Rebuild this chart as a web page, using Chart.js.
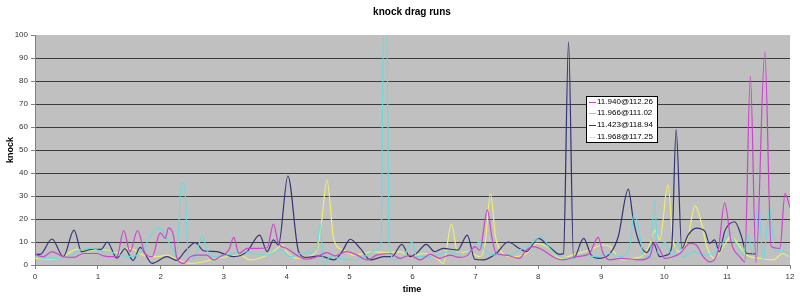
<!DOCTYPE html>
<html>
<head>
<meta charset="utf-8">
<script src="https://cdn.jsdelivr.net/npm/chart.js@4/dist/chart.umd.min.js"></script>
<style>
body { margin: 0; background: #fff; }
#wrap { width: 800px; height: 298px; }
</style>
</head>
<body>
<div id="wrap"><canvas id="grafico"></canvas></div>
<script>
// dados (tempo x knock) para cada corrida
const rotulos = ['11.940@112.26', '11.966@111.02', '11.423@118.94', '11.968@117.25'];
const cores = ['#cc44cc', '#6cdada', '#333377', '#eeee70'];

const tempoMagenta = [0,0.13,0.27,0.45,0.61,0.77,0.98,1.09,1.3,1.41,1.51,1.63,1.75,1.86,1.99,2.07,2.12,2.2,2.25,2.36,2.47,2.57,2.73,2.84,2.94,3.08,3.16,3.24,3.37,3.53,3.69,3.79,3.87,4.0,4.16,4.32,4.48,4.64,4.77,4.95,5.12,5.28,5.43,5.65,5.8,5.96,6.12,6.28,6.43,6.59,6.75,6.88,6.99,7.07,7.19,7.26,7.33,7.49,7.7,7.81,7.92,8.07,8.23,8.39,8.6,8.81,8.95,9.03,9.14,9.3,9.51,9.61,9.77,9.85,9.93,10.01,10.14,10.25,10.41,10.51,10.62,10.72,10.86,10.96,11.07,11.2,11.28,11.37,11.46,11.6,11.7,11.84,11.92,12];
const knockMagenta = [4.6,3.6,5.8,3.6,3.3,5,5,4,3.6,15,5.8,15,5,3.6,14,11.6,16,13,3.6,0.7,3.6,4.3,4.3,2.2,3.6,6.5,12,5,7.2,7.2,7.5,17.8,9.4,7.2,4.3,2.5,3.6,5.4,4,5.8,4.3,2.2,4.3,5,2.9,4.3,2.2,4.6,2.9,4.3,3.3,4.3,8,6.5,24,12.3,5,4.3,2.9,6.5,8,6.5,3.6,2.2,3.6,5,12,5,2.2,2.9,2.5,2.2,3.6,10,6.5,2.9,3.6,5,9.4,8.7,3.6,1.4,6.5,27,9.4,3.6,1.4,82,1,92.7,8,7.2,31,25];

const tempoCiano = [0,0.13,0.34,0.56,0.72,0.88,1.03,1.19,1.35,1.56,1.72,1.88,1.99,2.1,2.17,2.25,2.33,2.38,2.44,2.55,2.66,2.73,2.89,3.05,3.32,3.48,3.69,3.9,4.06,4.22,4.38,4.48,4.53,4.59,4.69,4.85,5.06,5.28,5.43,5.5,5.54,5.59,5.63,5.72,5.86,5.99,6.07,6.22,6.38,6.59,6.75,6.91,7.07,7.15,7.33,7.54,7.7,7.86,8.05,8.18,8.34,8.55,8.71,8.92,9.14,9.3,9.46,9.52,9.59,9.67,9.77,9.85,9.9,10.01,10.14,10.22,10.3,10.46,10.62,10.78,10.94,11.04,11.15,11.25,11.33,11.41,11.5,11.57,11.68,11.76,11.86,11.97];
const knockCiano = [3.6,2.9,2.9,4.3,6.5,7.2,6.2,5.8,4.3,3.6,7.2,14.5,16,10.9,8,3.6,35.8,34,2.2,3.6,13,6.5,3.6,4.3,5.8,5,4.3,6.5,3.6,5,5.4,7.2,18,0,3.6,2.9,2.2,4.3,6.5,9,105,105,9,2.2,3.6,10,3.6,3.6,4.3,5.8,4.8,5.8,10,6.5,4.3,4.3,6.5,8.7,12.3,7.2,3.6,2.9,4.3,3.6,5,3.6,9.4,22.5,16.7,4.3,3.6,28,5,10,3.6,10,3.6,5.8,4.3,5,10,13.8,8.7,4.3,13,5,28,2.2,24.6,5.8,6.5,5];

const tempoAzul = [0,0.08,0.27,0.45,0.62,0.74,0.9,1.05,1.15,1.3,1.43,1.56,1.67,1.86,2.1,2.25,2.39,2.55,2.68,2.89,3.05,3.16,3.37,3.57,3.69,3.79,3.87,4.02,4.19,4.32,4.53,4.75,4.88,5.01,5.17,5.33,5.54,5.67,5.83,5.96,6.06,6.22,6.35,6.49,6.72,6.87,6.99,7.12,7.33,7.52,7.7,7.81,8.0,8.18,8.34,8.4,8.48,8.56,8.72,8.84,8.97,9.14,9.27,9.43,9.51,9.59,9.72,9.83,9.93,10.04,10.12,10.19,10.28,10.38,10.51,10.65,10.72,10.8,10.88,10.96,11.12,11.23,11.31,11.45];
const knockAzul = [4.6,4.6,11.3,3.6,15.2,5.8,6.8,6.8,10,3,7,2,7.7,0.7,3.6,2,6.2,9.7,6.2,5.8,4.3,3.6,5.8,13,5.8,10.9,8.7,38.7,5.8,3.3,4,2.2,5.8,11.2,7.2,2.2,3.6,3.6,9,3.6,5,9,5.8,7.2,6.5,13,2.5,2.2,5,10,7.2,5.8,11.6,7.7,4.6,5,97,2.9,11.6,4.3,2.9,5,12.3,33,19.6,10.9,5.4,9.4,3.6,4.3,8,59,7.2,13,16,14.5,9.4,10.9,5.8,14.5,18.8,12.3,5,4.8];

const tempoAmarelo = [0,0.24,0.45,0.66,0.82,0.98,1.14,1.3,1.51,1.72,1.94,2.1,2.25,2.47,2.68,2.89,3.05,3.26,3.42,3.63,3.79,3.93,4.0,4.16,4.32,4.48,4.56,4.64,4.75,4.9,5.06,5.22,5.38,5.59,5.8,5.96,6.17,6.38,6.49,6.62,6.72,6.88,7.07,7.15,7.24,7.32,7.41,7.6,7.81,7.97,8.18,8.34,8.6,8.81,9.03,9.14,9.24,9.35,9.51,9.67,9.77,9.85,9.93,10.06,10.14,10.25,10.38,10.49,10.6,10.67,10.8,10.94,11.07,11.2,11.31,11.52,11.73,11.89,11.97];
const knockAmarelo = [2.9,2.5,3.6,6.8,6.2,6.8,6.5,5.4,7.2,4.3,3.6,4.3,2.5,0.7,1.4,2.9,3.6,4.3,2.2,3.6,5.8,8.7,5.8,2.9,3.6,6.5,20,37,10.9,6.5,4.3,5,5.8,5.4,5.8,3.6,5,2.9,0.7,17.8,5,5.8,3.6,8.7,30.9,12.3,5.8,3.6,5,9.4,7.2,2.9,4.8,6.5,8.7,8,4.3,2.2,2.9,4.3,8.7,15.2,10.9,34.8,10.9,5.8,12.3,25.7,17.4,8.7,2.9,8,12.3,8,4.3,2.9,2.2,5,3.6];

const tempos = [tempoMagenta, tempoCiano, tempoAzul, tempoAmarelo];
const knocks = [knockMagenta, knockCiano, knockAzul, knockAmarelo];

const fonte = '"Liberation Sans", Arial, sans-serif';

// monta um dataset por corrida
const datasets = [];
for (let i = 0; i < rotulos.length; i++) {
    datasets.push({
        label: rotulos[i],
        data: tempos[i].map((t, j) => ({ x: t, y: knocks[i][j] })),
        borderColor: cores[i],
        borderWidth: 1.2,
        pointRadius: 0,
        cubicInterpolationMode: 'monotone',
        fill: false
    });
}

// fundo cinza, titulos e legenda dentro do grafico
const estiloExcel = {
    id: 'estiloExcel',
    beforeDraw(chart) {
        const { ctx, chartArea } = chart;
        ctx.save();
        ctx.fillStyle = '#c0c0c0';
        ctx.fillRect(chartArea.left, chartArea.top, chartArea.right - chartArea.left, chartArea.bottom - chartArea.top);
        ctx.restore();
    },
    afterDraw(chart) {
        const { ctx } = chart;
        ctx.save();
        ctx.fillStyle = '#000';
        ctx.textAlign = 'center';
        ctx.textBaseline = 'middle';
        ctx.font = 'bold 10px ' + fonte;
        ctx.fillText('knock drag runs', 412, 12);
        ctx.font = 'bold 9px ' + fonte;
        ctx.fillText('time', 412, 290);
        ctx.translate(11, 150);
        ctx.rotate(-Math.PI / 2);
        ctx.fillText('knock', 0, 0);
        ctx.restore();

        // legenda
        const x = 586, y = 96, w = 71, h = 46;
        ctx.save();
        ctx.fillStyle = '#fff';
        ctx.fillRect(x, y, w, h);
        ctx.strokeStyle = '#000';
        ctx.lineWidth = 1;
        ctx.strokeRect(x + 0.5, y + 0.5, w, h);
        ctx.font = '8px ' + fonte;
        ctx.textAlign = 'left';
        ctx.textBaseline = 'middle';
        for (let i = 0; i < rotulos.length; i++) {
            const ly = y + 5.5 + i * 11.7;
            ctx.strokeStyle = cores[i];
            ctx.beginPath();
            ctx.moveTo(x + 3, Math.round(ly) + 0.5);
            ctx.lineTo(x + 10, Math.round(ly) + 0.5);
            ctx.stroke();
            ctx.fillStyle = '#000';
            ctx.fillText(rotulos[i], x + 11, ly);
        }
        ctx.restore();
    }
};

const ctx = document.getElementById('grafico').getContext('2d');
new Chart(ctx, {
    type: 'line',
    data: { datasets: datasets },
    options: {
        responsive: true,
        maintainAspectRatio: false,
        animation: false,
        layout: { padding: { top: 35, right: 10, left: 0, bottom: 0 } },
        plugins: {
            legend: { display: false },
            title: { display: false },
            tooltip: { enabled: false }
        },
        scales: {
            x: {
                type: 'linear',
                min: 0,
                max: 12,
                ticks: { stepSize: 1, color: '#333', font: { family: fonte, size: 8 }, maxRotation: 0, padding: 3 },
                grid: { drawOnChartArea: false, tickLength: 4, tickColor: '#808080' },
                border: { color: '#808080' },
                afterFit(scale) { scale.height = 33; }
            },
            y: {
                min: 0,
                max: 100,
                ticks: { stepSize: 10, color: '#333', font: { family: fonte, size: 8 }, padding: 3 },
                grid: {
                    color: c => (c.tick && c.tick.value > 0 && c.tick.value < 100) ? '#3c3c3c' : 'rgba(0,0,0,0)',
                    tickLength: 4,
                    tickColor: '#808080'
                },
                border: { color: '#808080' },
                afterFit(scale) { scale.width = 35; }
            }
        }
    },
    plugins: [estiloExcel]
});
</script>
</body>
</html>
